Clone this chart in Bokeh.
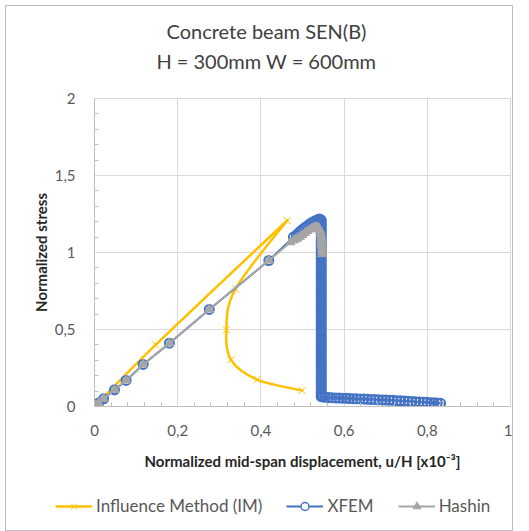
import numpy as np
from bokeh.plotting import figure
from bokeh.layouts import column, row
from bokeh.models import FixedTicker, Label, Legend, LegendItem, Range1d
from bokeh.embed import file_html
from bokeh.resources import INLINE

# ---------------- data ----------------
title_lines = ["Concrete beam SEN(B)", "H = 300mm W = 600mm"]
x_title = "Normalized mid-span displacement, u/H [x10\u207b\u00b3]"
y_title = "Normalized stress"

x_ticks = [0, 0.2, 0.4, 0.6, 0.8, 1.0]
x_tick_labels = ["0", "0,2", "0,4", "0,6", "0,8", "1"]
x_minor = [0.04, 0.08, 0.12, 0.16, 0.24, 0.28, 0.32, 0.36, 0.44, 0.48, 0.52, 0.56,
           0.64, 0.68, 0.72, 0.76, 0.84, 0.88, 0.92, 0.96]
y_ticks = [0, 0.5, 1.0, 1.5, 2.0]
y_tick_labels = ["0", "0,5", "1", "1,5", "2"]
y_minor = [0.1, 0.2, 0.3, 0.4, 0.6, 0.7, 0.8, 0.9, 1.1, 1.2, 1.3, 1.4, 1.6, 1.7, 1.8, 1.9]

series_names = ["Influence Method (IM)", "XFEM", "Hashin"]

# Influence Method: loading branch and post-peak branch
im_load_x = [0.0, 0.147, 0.463]
im_load_y = [0.0, 0.400, 1.208]
im_post_x = [0.463, 0.339, 0.317, 0.328, 0.391, 0.499]
im_post_y = [1.208, 0.764, 0.498, 0.303, 0.175, 0.104]

# XFEM
xfem_rise_x = [0.0, 0.004, 0.010, 0.022, 0.048, 0.076, 0.117, 0.180, 0.276, 0.419,
               0.478, 0.485, 0.490, 0.495, 0.500, 0.505, 0.510, 0.515, 0.520, 0.525,
               0.530, 0.534, 0.538, 0.541, 0.543, 0.545]
xfem_rise_y = [0.0, 0.009, 0.023, 0.050, 0.108, 0.169, 0.273, 0.411, 0.630, 0.948,
               1.100, 1.112, 1.125, 1.138, 1.150, 1.160, 1.170, 1.180, 1.190, 1.198,
               1.205, 1.210, 1.215, 1.217, 1.215, 1.210]
xfem_drop_x = 0.545
xfem_drop_y = [1.200, 1.185, 1.170, 1.155, 1.140, 1.125, 1.110, 1.095, 1.080, 1.065,
               1.050, 1.035, 1.020, 1.005, 0.990, 0.975, 0.960, 0.945, 0.930, 0.915,
               0.900, 0.885, 0.870, 0.855, 0.840, 0.825, 0.810, 0.795, 0.780, 0.765,
               0.750, 0.735, 0.720, 0.705, 0.690, 0.675, 0.660, 0.645, 0.630, 0.615,
               0.600, 0.585, 0.570, 0.555, 0.540, 0.525, 0.510, 0.495, 0.480, 0.465,
               0.450, 0.435, 0.420, 0.405, 0.390, 0.375, 0.360, 0.345, 0.330, 0.315,
               0.300, 0.285, 0.270, 0.255, 0.240, 0.225, 0.210, 0.195, 0.180, 0.165,
               0.150, 0.135, 0.120, 0.105, 0.090, 0.075, 0.065]
xfem_tail_x = [0.548, 0.555, 0.563, 0.571, 0.580, 0.588, 0.596, 0.605, 0.613, 0.622,
               0.630, 0.639, 0.648, 0.656, 0.665, 0.674, 0.683, 0.692, 0.700, 0.709,
               0.718, 0.727, 0.736, 0.745, 0.754, 0.763, 0.772, 0.781, 0.790, 0.799,
               0.808, 0.816, 0.824, 0.832]
xfem_tail_y = [0.062, 0.060, 0.058, 0.057, 0.056, 0.055, 0.054, 0.053, 0.052, 0.051,
               0.050, 0.049, 0.048, 0.047, 0.046, 0.045, 0.044, 0.043, 0.042, 0.041,
               0.040, 0.038, 0.037, 0.036, 0.034, 0.033, 0.031, 0.030, 0.028, 0.027,
               0.025, 0.024, 0.022, 0.021]

# Hashin
hashin_x = [0.0, 0.004, 0.010, 0.022, 0.048, 0.076, 0.117, 0.180, 0.276, 0.419,
            0.471, 0.480, 0.487, 0.494, 0.500, 0.506, 0.512, 0.518, 0.523, 0.528,
            0.532, 0.536, 0.539, 0.541, 0.543, 0.544, 0.545, 0.545, 0.546, 0.546,
            0.546, 0.547, 0.547, 0.547, 0.547]
hashin_y = [0.0, 0.009, 0.023, 0.050, 0.108, 0.169, 0.273, 0.411, 0.630, 0.948,
            1.067, 1.080, 1.090, 1.103, 1.115, 1.128, 1.140, 1.150, 1.158, 1.164,
            1.166, 1.165, 1.160, 1.150, 1.138, 1.124, 1.110, 1.095, 1.080, 1.065,
            1.050, 1.035, 1.020, 1.005, 0.990]

# ---------------- styles ----------------
C_IM = "#FFC000"
C_XFEM = "#4472C4"
C_HASHIN = "#A5A5A5"
GRID = "#D9D9D9"
FONT = "Lato"


def bezier_pieces(xs, ys):
    """Excel-like smoothed line: Catmull-Rom control points -> cubic bezier parts."""
    P = np.column_stack([xs, ys]).astype(float)
    n = len(P)
    out = {k: [] for k in ("x0", "y0", "x1", "y1", "cx0", "cy0", "cx1", "cy1")}
    for i in range(n - 1):
        p0 = P[i - 1] if i > 0 else P[i]
        p1, p2 = P[i], P[i + 1]
        p3 = P[i + 2] if i + 2 < n else P[i + 1]
        c1 = p1 + (p2 - p0) / 6.0
        c2 = p2 - (p3 - p1) / 6.0
        out["x0"].append(p1[0]); out["y0"].append(p1[1])
        out["x1"].append(p2[0]); out["y1"].append(p2[1])
        out["cx0"].append(c1[0]); out["cy0"].append(c1[1])
        out["cx1"].append(c2[0]); out["cy1"].append(c2[1])
    return out


def strip(height):
    f = figure(width=506, height=height, x_range=Range1d(0, 1), y_range=Range1d(10, 11),
               output_backend="svg", toolbar_location=None,
               x_axis_location=None, y_axis_location=None,
               min_border_left=0, min_border_right=0, min_border_top=0, min_border_bottom=0)
    f.grid.visible = False
    f.outline_line_color = None
    f.background_fill_color = "white"
    f.border_fill_color = "white"
    return f


# ---------------- title strip ----------------
tt = strip(82)
tt.add_layout(Label(x=260, y=58, x_units="screen", y_units="screen", text=title_lines[0],
                    text_align="center", text_baseline="middle", text_font=FONT,
                    text_font_size="20px", text_color="#404040"))
tt.add_layout(Label(x=260, y=28, x_units="screen", y_units="screen", text=title_lines[1],
                    text_align="center", text_baseline="middle", text_font=FONT,
                    text_font_size="20px", text_color="#404040"))

# ---------------- main chart ----------------
p = figure(width=506, height=398, x_range=Range1d(0, 1), y_range=Range1d(0, 2),
           output_backend="svg", toolbar_location=None,
           min_border_left=88, min_border_right=2, min_border_top=10, min_border_bottom=80)
p.background_fill_color = "white"
p.border_fill_color = "white"
p.outline_line_color = GRID

p.xaxis.ticker = FixedTicker(ticks=x_ticks, minor_ticks=x_minor)
p.yaxis.ticker = FixedTicker(ticks=y_ticks, minor_ticks=y_minor)
p.xaxis.major_label_overrides = dict(zip(x_ticks, x_tick_labels))
p.yaxis.major_label_overrides = dict(zip(y_ticks, y_tick_labels))
p.xaxis.axis_label = x_title
p.yaxis.axis_label = y_title

for ax in (p.xaxis[0], p.yaxis[0]):
    ax.axis_line_color = "#BFBFBF"
    ax.axis_line_width = 1
    ax.major_tick_in = 0
    ax.major_tick_out = 0
    ax.major_tick_line_color = None
    ax.minor_tick_in = 4
    ax.minor_tick_out = 0
    ax.minor_tick_line_color = "#BFBFBF"
    ax.major_label_text_color = "#595959"
    ax.major_label_text_font = FONT
    ax.major_label_text_font_size = "15px"
    ax.axis_label_text_font = FONT
    ax.axis_label_text_font_style = "bold"
    ax.axis_label_text_font_size = "15px"
    ax.axis_label_text_color = "#262626"

p.xaxis.major_label_standoff = 18
p.yaxis.major_label_standoff = 19
p.xaxis.axis_label_standoff = 13
p.yaxis.axis_label_standoff = 2

p.xgrid.grid_line_color = GRID
p.ygrid.grid_line_color = GRID

# Influence Method
bl = bezier_pieces(im_load_x, im_load_y)
bp = bezier_pieces(im_post_x, im_post_y)
p.bezier(line_color=C_IM, line_width=2.5, line_cap="round", **bl)
p.bezier(line_color=C_IM, line_width=2.5, line_cap="round", **bp)
im_mx = im_load_x + im_post_x[1:]
im_my = im_load_y + im_post_y[1:]
p.scatter(im_mx, im_my, marker="x", size=10, line_color=C_IM, line_width=1)

# XFEM
xfem_x = xfem_rise_x + [xfem_drop_x] * len(xfem_drop_y) + xfem_tail_x
xfem_y = xfem_rise_y + xfem_drop_y + xfem_tail_y
p.line(xfem_x, xfem_y, line_color=C_XFEM, line_width=2)
p.scatter(xfem_x, xfem_y, marker="circle", size=9, line_color=C_XFEM,
          line_width=2, fill_color="white", fill_alpha=0)

# Hashin
p.line(hashin_x, hashin_y, line_color=C_HASHIN, line_width=2)
p.scatter(hashin_x, hashin_y, marker="triangle", size=9, line_color=C_HASHIN,
          fill_color=C_HASHIN)

# ---------------- legend strip (sample glyphs use the series data, kept out of view) ----
lg = strip(44)
k_im_l = lg.line(im_mx, im_my, line_color=C_IM, line_width=2.5)
k_im_m = lg.scatter(im_mx, im_my, marker="x", size=10, line_color=C_IM, line_width=1)
k_xf_l = lg.line(xfem_x, xfem_y, line_color=C_XFEM, line_width=2)
k_xf_m = lg.scatter(xfem_x, xfem_y, marker="circle", size=8, line_color=C_XFEM,
                    line_width=1.5, fill_color="white")
k_h_l = lg.line(hashin_x, hashin_y, line_color=C_HASHIN, line_width=2)
k_h_m = lg.scatter(hashin_x, hashin_y, marker="triangle", size=8, line_color=C_HASHIN,
                   fill_color=C_HASHIN)

legend = Legend(items=[
    LegendItem(label=series_names[0], renderers=[k_im_l, k_im_m]),
    LegendItem(label=series_names[1], renderers=[k_xf_l, k_xf_m]),
    LegendItem(label=series_names[2], renderers=[k_h_l, k_h_m]),
], orientation="horizontal", location=(49, 14), padding=0, margin=0,
    border_line_color=None, background_fill_alpha=0, glyph_width=37, glyph_height=20,
    label_standoff=4, spacing=24, label_text_font=FONT, label_text_font_size="17px",
    label_text_color="#595959")
lg.add_layout(legend, "center")

layout = column(row(tt), p, row(lg), spacing=0,
                styles={"border": "1px solid #BFBFBF", "margin": "5px"})

open("out.html", "w").write(file_html(layout, INLINE))
